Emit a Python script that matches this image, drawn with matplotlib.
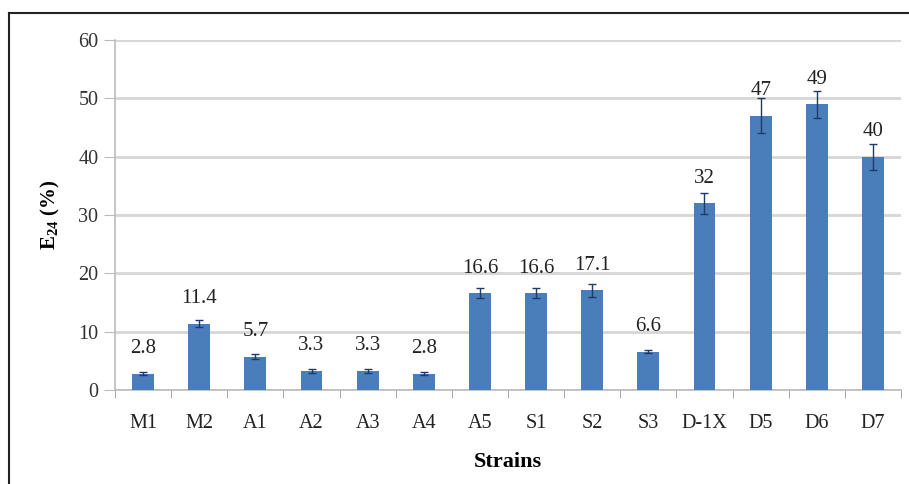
import matplotlib
matplotlib.use("Agg")
import matplotlib.pyplot as plt
from matplotlib.lines import Line2D
import numpy as np

strains = ["M1", "M2", "A1", "A2", "A3", "A4", "A5", "S1", "S2", "S3", "D-1X", "D5", "D6", "D7"]
e24 = [2.8, 11.4, 5.7, 3.3, 3.3, 2.8, 16.6, 16.6, 17.1, 6.6, 32, 47, 49, 40]
err = [0.3, 0.6, 0.4, 0.3, 0.3, 0.3, 0.9, 0.9, 1.1, 0.2, 1.8, 3.0, 2.3, 2.2]
labels = ["2.8", "11.4", "5.7", "3.3", "3.3", "2.8", "16.6", "16.6", "17.1", "6.6", "32", "47", "49", "40"]
yticks = [0, 10, 20, 30, 40, 50, 60]

plt.rcParams['font.family'] = ['Liberation Serif', 'DejaVu Serif']
plt.rcParams['mathtext.fontset'] = 'custom'
plt.rcParams['mathtext.rm'] = 'Liberation Serif'
plt.rcParams['mathtext.bf'] = 'Liberation Serif:bold'

fig = plt.figure(figsize=(9.09, 4.84), dpi=100)
ax = fig.add_axes([115/909, 1-390/484, (901-115)/909, (390-40)/484])

x = np.arange(len(strains))
ax.bar(x, e24, width=0.39, color="#4a7ebb", zorder=3,
       yerr=err, error_kw=dict(ecolor="#1f3a66", elinewidth=1.0, capsize=3, capthick=1.0, zorder=4))

for xi, v, lab in zip(x, e24, labels):
    ax.annotate(lab, (xi, v), xytext=(0, 18), textcoords="offset points",
                ha="center", va="center", fontsize=15, color="#222222")

ax.set_xlim(-0.5, len(strains) - 0.5)
ax.set_ylim(0, 60)
ax.set_yticks(yticks)
ax.set_yticklabels([str(t) for t in yticks], fontsize=14.5, color="#333333")
ax.set_xticks(x)
ax.set_xticklabels(strains, fontsize=14.5, color="#222222")
ax.set_xticks(np.arange(-0.5, len(strains), 1.0), minor=True)
ax.tick_params(axis="x", which="major", length=0, pad=17)
ax.tick_params(axis="x", which="minor", length=6, color="#999999", direction="out")
ax.tick_params(axis="y", length=8, color="#bbbbbb", pad=4)

ax.grid(axis="y", color="#d6d6d6", linewidth=2.0, zorder=0)
ax.set_axisbelow(True)
for s in ["top", "right"]:
    ax.spines[s].set_visible(False)
ax.spines["left"].set_color("#bbbbbb")
ax.spines["bottom"].set_color("#bbbbbb")
ax.spines["left"].set_linewidth(1.2)
ax.spines["bottom"].set_linewidth(1.2)

ax.set_xlabel("Strains", fontsize=16, fontweight="bold", labelpad=14)
ax.set_ylabel(r"E$_{\mathbf{24}}$ (%)", fontsize=15, fontweight="bold", labelpad=12)

# outer frame
fig.add_artist(Line2D([9/909, 9/909], [0, 1-13/484], transform=fig.transFigure, color="#222222", linewidth=1.5))
fig.add_artist(Line2D([9/909, 1], [1-13/484, 1-13/484], transform=fig.transFigure, color="#222222", linewidth=1.5))

fig.savefig("out.png", dpi=100)
